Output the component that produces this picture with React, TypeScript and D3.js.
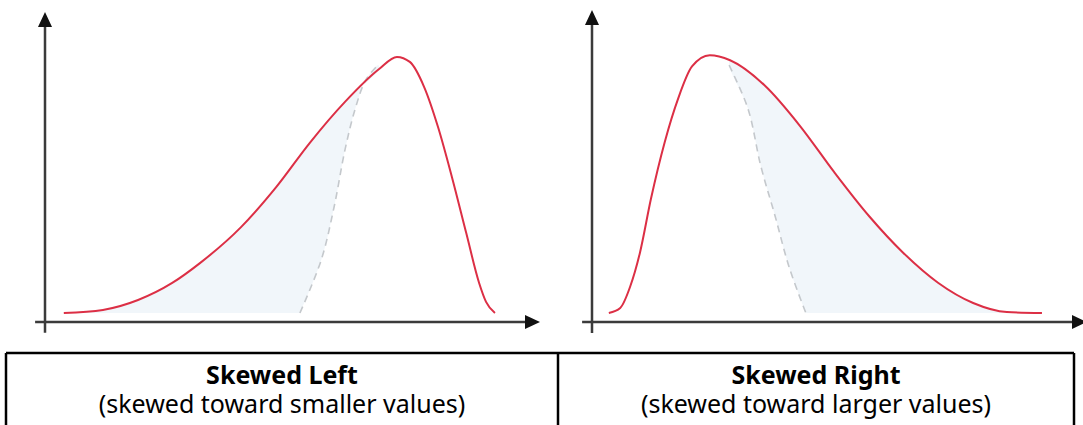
import React from 'react';
import * as d3 from 'd3';

const W = 1083;
const H = 425;

// curve readings, x: 0-100 along the axis, y: 0-100 relative height
const leftCurveX = [3.8, 11.7, 18.8, 25.7, 31.3, 39.6, 46.7, 53.5, 60.6, 67.5, 71.1, 73.7, 76.6, 79.4, 82.2, 85.1, 87.7, 89.1, 90.9];
const leftCurveY = [2.9, 3.9, 7.1, 12.6, 19.0, 30.6, 43.5, 57.8, 71.0, 81.6, 85.5, 83.9, 75.8, 62.9, 46.8, 28.7, 12.6, 6.5, 2.9];
const leftDashX = [51.5, 55.8, 58.4, 60.6, 62.6, 64.8, 67.3];
const leftDashY = [2.9, 20.0, 37.1, 55.5, 68.4, 78.1, 82.9];

const rightCurveX = [3.4, 5.7, 7.7, 9.7, 11.9, 14.7, 17.4, 20.2, 23.8, 27.9, 34.9, 42.0, 48.9, 56.0, 62.8, 69.9, 77.0, 83.8, 90.9];
const rightCurveY = [2.9, 4.5, 11.3, 22.3, 39.4, 57.7, 71.6, 81.9, 85.5, 83.9, 75.8, 62.9, 48.1, 33.9, 22.3, 12.6, 6.1, 3.2, 2.9];
const rightDashX = [27.7, 31.5, 34.1, 37.0, 39.8, 43.2];
const rightDashY = [82.3, 68.4, 50.0, 33.9, 17.7, 2.9];

const titles = ['Skewed Left', 'Skewed Right'];
const subtitles = ['(skewed toward smaller values)', '(skewed toward larger values)'];

type Pt = [number, number];
const zip = (xs: number[], ys: number[]): Pt[] => xs.map((x, i) => [x, ys[i]]);

const panels = [
  {
    origin: 45,
    yTip: 12,
    curve: zip(leftCurveX, leftCurveY),
    dash: zip(leftDashX, leftDashY),
    // tail side: rising part of the curve, then down the dashed line
    shade: [...zip(leftCurveX, leftCurveY).slice(0, 10), ...zip(leftDashX, leftDashY).reverse()]
  },
  {
    origin: 592,
    yTip: 10,
    curve: zip(rightCurveX, rightCurveY),
    dash: zip(rightDashX, rightDashY),
    shade: [...zip(rightDashX, rightDashY).reverse(), ...zip(rightCurveX, rightCurveY).slice(9)]
  }
];

const axisColor = '#3b3b3b';

function Panel({ p }: { p: typeof panels[0] }) {
  const x = d3.scaleLinear().domain([0, 100]).range([p.origin, p.origin + 495]);
  const y = d3.scaleLinear().domain([0, 100]).range([322, p.yTip]);
  const smooth = d3.line<Pt>().x(d => x(d[0])).y(d => y(d[1])).curve(d3.curveMonotoneX);
  const loose = d3.line<Pt>().x(d => x(d[0])).y(d => y(d[1])).curve(d3.curveCatmullRom.alpha(0.5));

  const x0 = x(-2);
  const x1 = x(100);
  const y0 = y(-3.5);
  const y1 = y(100);
  const ax = x(0);
  const ay = y(0);
  const ah = 15, aw = 7;

  return (
    <g>
      <path d={(loose(p.shade) || '') + 'Z'} fill="#f1f6fa" stroke="none" />
      <path d={loose(p.dash) || ''} fill="none" stroke="#c4c8cc" strokeWidth={1.6} strokeDasharray="7,5" />
      {/* axes */}
      <line x1={x0} y1={ay} x2={x1 - ah + 2} y2={ay} stroke={axisColor} strokeWidth={2.5} />
      <line x1={ax} y1={y0} x2={ax} y2={y1 + ah - 2} stroke={axisColor} strokeWidth={2.5} />
      <path d={`M${x1},${ay}L${x1 - ah},${ay - aw}L${x1 - ah},${ay + aw}Z`} fill="#111" />
      <path d={`M${ax},${y1}L${ax - aw},${y1 + ah}L${ax + aw},${y1 + ah}Z`} fill="#111" />
      <path d={smooth(p.curve) || ''} fill="none" stroke="#dc2f45" strokeWidth={2} />
    </g>
  );
}

export default function App() {
  const cells = [6, 558, 1074];
  const top = 353;
  return (
    <svg width={W} height={H} style={{ position: 'absolute', left: 0, top: 0, background: '#fff' }}>
      {panels.map((p, i) => <Panel key={i} p={p} />)}
      <g stroke="#000" strokeWidth={2.5}>
        <line x1={cells[0]} y1={top} x2={cells[2]} y2={top} />
        {cells.map((c, i) => <line key={i} x1={c} y1={top} x2={c} y2={H} />)}
      </g>
      {titles.map((t, i) => {
        const cx = (cells[i] + cells[i + 1]) / 2;
        // one text element per cell, two lines as tspans
        return (
          <text key={t} x={cx} y={384} fontFamily="'Noto Sans', sans-serif" fontSize={25}
            textAnchor="middle" fill="#000">
            <tspan x={cx} y={384} fontWeight="bold">{t}</tspan>
            <tspan x={cx} y={413}>{subtitles[i]}</tspan>
          </text>
        );
      })}
    </svg>
  );
}
